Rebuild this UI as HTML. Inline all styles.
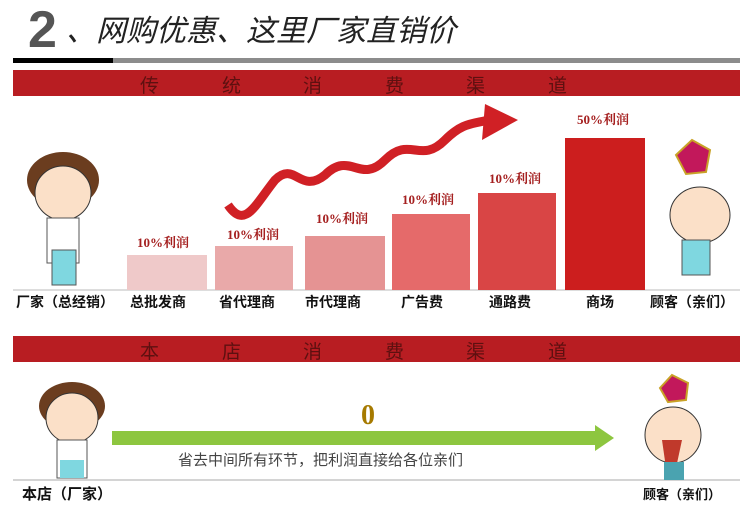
<!DOCTYPE html>
<html><head><meta charset="utf-8"><style>
body{margin:0;background:#fff;}
#c{position:relative;width:750px;height:509px;overflow:hidden;font-family:"Liberation Sans","Noto Sans CJK SC",sans-serif;}
.a{position:absolute;white-space:nowrap;}
.band{position:absolute;left:13px;width:727px;height:26px;background:#b81d22;}
.bt{position:absolute;top:1px;font-size:19px;color:#5e1010;}
.lbl{position:absolute;top:292px;font-size:14px;font-weight:bold;color:#111;}
.pct{position:absolute;font-size:13px;font-weight:bold;color:#a52020;font-family:"Liberation Serif","Noto Serif CJK SC",serif;}
.bar{position:absolute;bottom:219px;}
</style></head><body><div id="c">
<div class="a" style="left:28px;top:2px;font-size:52px;font-weight:bold;color:#555;line-height:56px;">2</div>
<div class="a" style="left:66px;top:12px;font-size:30px;color:#222;line-height:40px;font-style:italic;">、网购优惠、这里厂家直销价</div>
<div class="a" style="left:13px;top:58px;width:100px;height:5px;background:#000;"></div>
<div class="a" style="left:113px;top:58px;width:627px;height:5px;background:#8c8c8c;"></div>
<div class="band" style="top:70px;">
<span class="bt" style="left:127px">传</span><span class="bt" style="left:209px">统</span><span class="bt" style="left:290px">消</span><span class="bt" style="left:372px">费</span><span class="bt" style="left:453px">渠</span><span class="bt" style="left:535px">道</span></div>
<svg class="a" style="left:0;top:0" width="750" height="509">
<path d="M228 205 C245 230,255 205,275 180 C295 160,300 195,325 175 C350 150,360 185,385 160 C410 135,420 165,445 140 C465 120,475 125,495 118" stroke="#d02025" stroke-width="9" fill="none"/>
<polygon points="485,104 518,120 482,140" fill="#d02025"/>
<rect x="112" y="431" width="485" height="14" fill="#8dc63f"/>
<polygon points="595,425 614,438 595,451" fill="#8dc63f"/>
<line x1="13" y1="480" x2="740" y2="480" stroke="#aaa" stroke-width="1"/>
<line x1="13" y1="290" x2="740" y2="290" stroke="#bbb" stroke-width="1"/>
<ellipse cx="63" cy="180" rx="36" ry="28" fill="#6b3d1f"/><ellipse cx="63" cy="193" rx="28" ry="27" fill="#fbe0c8" stroke="#333"/><rect x="47" y="218" width="32" height="45" fill="#fff" stroke="#555"/><rect x="52" y="250" width="24" height="35" fill="#7fd7e0" stroke="#555"/>
<ellipse cx="72" cy="406" rx="33" ry="24" fill="#6b3d1f"/><ellipse cx="72" cy="418" rx="26" ry="25" fill="#fbe0c8" stroke="#333"/><rect x="57" y="440" width="30" height="38" fill="#fff" stroke="#555"/><rect x="60" y="460" width="24" height="18" fill="#7fd7e0"/>
<polygon points="692,140 710,150 706,172 686,174 676,155" fill="#c2185b" stroke="#c9a227" stroke-width="2"/><ellipse cx="700" cy="215" rx="30" ry="28" fill="#fbe0c8" stroke="#333"/><rect x="682" y="240" width="28" height="35" fill="#7fd7e0" stroke="#555"/>
<polygon points="672,375 688,383 686,400 668,402 660,388" fill="#c2185b" stroke="#c9a227" stroke-width="2"/><ellipse cx="673" cy="435" rx="28" ry="28" fill="#fbe0c8" stroke="#333"/><path d="M662 440 L682 440 L676 468 L666 468Z" fill="#c0392b"/><rect x="664" y="462" width="20" height="18" fill="#4aa3b0"/>
</svg>
<div class="bar" style="left:127px;width:80px;height:35px;background:#efc9c9;"></div>
<div class="bar" style="left:215px;width:78px;height:44px;background:#e9a9a9;"></div>
<div class="bar" style="left:305px;width:80px;height:54px;background:#e59393;"></div>
<div class="bar" style="left:392px;width:78px;height:76px;background:#e56a6a;"></div>
<div class="bar" style="left:478px;width:78px;height:97px;background:#d94545;"></div>
<div class="bar" style="left:565px;width:80px;height:152px;background:#cc1e1e;"></div>
<div class="pct" style="left:137px;top:232px">10%利润</div>
<div class="pct" style="left:227px;top:224px">10%利润</div>
<div class="pct" style="left:316px;top:208px">10%利润</div>
<div class="pct" style="left:402px;top:189px">10%利润</div>
<div class="pct" style="left:489px;top:168px">10%利润</div>
<div class="pct" style="left:577px;top:109px">50%利润</div>
<div class="lbl" style="left:16px">厂家（总经销）</div>
<div class="lbl" style="left:130px">总批发商</div>
<div class="lbl" style="left:219px">省代理商</div>
<div class="lbl" style="left:305px">市代理商</div>
<div class="lbl" style="left:401px">广告费</div>
<div class="lbl" style="left:489px">通路费</div>
<div class="lbl" style="left:586px">商场</div>
<div class="lbl" style="left:650px">顾客（亲们）</div>
<div class="band" style="top:336px;">
<span class="bt" style="left:127px">本</span><span class="bt" style="left:209px">店</span><span class="bt" style="left:290px">消</span><span class="bt" style="left:372px">费</span><span class="bt" style="left:453px">渠</span><span class="bt" style="left:535px">道</span></div>
<div class="a" style="left:361px;top:400px;font-size:28px;font-weight:bold;color:#a67a00;font-family:'Liberation Serif',serif;">0</div>
<div class="a" style="left:178px;top:449px;font-size:15px;color:#444;">省去中间所有环节，把利润直接给各位亲们</div>
<div class="a" style="left:22px;top:483px;font-size:15px;font-weight:bold;color:#111;">本店（厂家）</div>
<div class="a" style="left:643px;top:484px;font-size:13px;font-weight:bold;color:#111;">顾客（亲们）</div>
</div></body></html>
